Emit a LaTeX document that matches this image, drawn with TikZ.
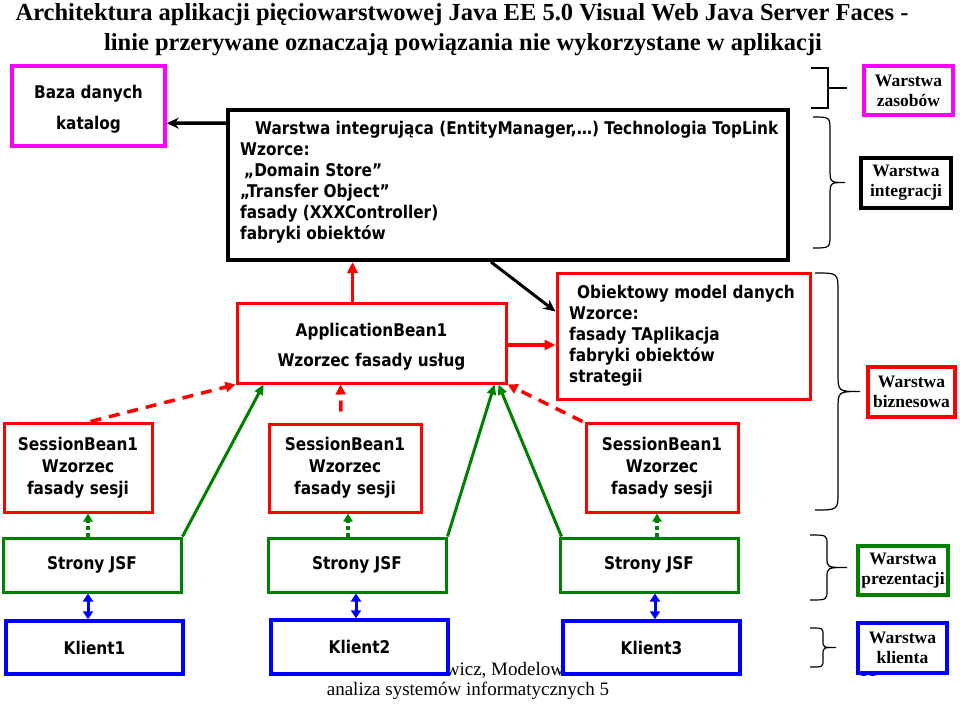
\documentclass[tikz,border=0pt]{standalone}
\usepackage{fontspec}
\setmainfont{Liberation Serif}
\setsansfont[FakeStretch=0.875]{DejaVu Sans}
\usetikzlibrary{arrows.meta,calc}
\definecolor{jgreen}{RGB}{0,128,0}
\definecolor{jred}{RGB}{255,0,0}
\definecolor{jblue}{RGB}{0,0,255}
\definecolor{jmag}{RGB}{255,0,255}
\tikzset{
  sf/.style={font=\sffamily\bfseries\fontsize{17.5}{21}\selectfont},
  sr/.style={font=\rmfamily\bfseries\fontsize{17.5}{20}\selectfont},
  box/.style={draw, fill=white, inner sep=0pt, align=center},
  rbox/.style={box, draw=jred, line width=3pt, sf},
  gbox/.style={box, draw=jgreen, line width=3pt, sf},
  bbox/.style={box, draw=jblue, line width=3.5pt, sf},
  mbox/.style={box, draw=jmag, line width=3.5pt},
  kbox/.style={box, draw=black, line width=4pt},
  lay/.style={box, sr},
  brc/.style={draw=black, line width=1.2pt},
  redarr/.style={draw=jred, line width=3.5pt, -{Triangle[length=11pt,width=10pt]}},
  reddash/.style={draw=jred, line width=3.5pt, dash pattern=on 11pt off 8pt, -{Triangle[length=10pt,width=10pt]}},
  grarr/.style={draw=jgreen, line width=3pt, -{Triangle[length=10pt,width=9pt]}},
  grdot/.style={draw=jgreen, line width=3.5pt, dash pattern=on 4pt off 3pt, -{Triangle[length=8pt,width=9pt]}},
  blarr/.style={draw=jblue, line width=3pt, {Triangle[length=8pt,width=10pt]}-{Triangle[length=8pt,width=10pt]}},
  blkarr/.style={draw=black, line width=3.5pt, -{Stealth[length=12pt,width=11pt]}},
  ttl/.style={font=\rmfamily\bfseries\fontsize{24.5}{30}\selectfont, anchor=base, inner sep=0pt},
  sbfont/.style={font=\sffamily\bfseries\fontsize{17.5}{22}\selectfont},
  txt/.style={sf, align=center, inner sep=0pt},
}
\newcommand{\laybrace}[6]{%
  \draw[brc] (#1,#4) .. controls (#2,#4) .. (#2,{#4+#6}) -- (#2,{(#4+#5)/2-#6})
    .. controls (#2,{(#4+#5)/2}) .. (#3,{(#4+#5)/2})
    .. controls (#2,{(#4+#5)/2}) .. (#2,{(#4+#5)/2+#6}) -- (#2,{#5-#6})
    .. controls (#2,#5) .. (#1,#5);}
\begin{document}
\begin{tikzpicture}[x=1pt,y=-1pt]
\useasboundingbox (0,0) rectangle (960,704);
% title
\node[ttl] (t1) at (462,20) {Architektura aplikacji pięciowarstwowej Java EE 5.0 Visual Web Java Server Faces -};
\node[ttl] (t2) at (463,50) {linie przerywane oznaczają powiązania nie wykorzystane w aplikacji};
% footer (behind boxes)
\node[font=\rmfamily\fontsize{19}{20}\selectfont, align=center, inner sep=0pt] (foot) at (468,681) {Zofia Kruczkiewicz, Modelowanie i\\analiza systemów informatycznych 5};
\node[font=\rmfamily\fontsize{19}{20}\selectfont, inner sep=0pt] (pnum) at (868,670) {11};
% resource / integration layer
\node[mbox, minimum width=153pt, minimum height=80pt] (baza) at (88.5,106) {};
\node[txt] (bazatxt) at (88.5,109) {Baza danych\\[10pt]katalog};
\node[kbox, minimum width=560pt, minimum height=150pt] (integ) at (508,185) {};
\node[sf, align=left, anchor=north west, inner sep=0pt] (integtxt) at (240,121) {\hspace*{15pt}Warstwa integrująca (EntityManager,…) Technologia TopLink\\Wzorce:\\\hspace*{4pt}„Domain Store”\\„Transfer Object”\\fasady (XXXController)\\fabryki obiektów};
% business layer
\node[rbox, minimum width=269pt, minimum height=80pt] (app) at (371.5,343) {};
\node[txt] (apptxt) at (371.5,347) {ApplicationBean1\\[9pt]Wzorzec fasady usług};
\node[rbox, minimum width=253pt, minimum height=126pt] (obj) at (683.5,336) {};
\node[sf, align=left, anchor=north west, inner sep=0pt] (objtxt) at (569,285) {\hspace*{8pt}Obiektowy model danych\\Wzorce:\\fasady TAplikacja\\fabryki obiektów\\strategii};
\node[rbox, minimum width=148pt, minimum height=89pt, sbfont] (sb1) at (78,467.5) {SessionBean1\\Wzorzec\\fasady sesji};
\node[rbox, minimum width=152pt, minimum height=88pt, sbfont] (sb2) at (345,468) {SessionBean1\\Wzorzec\\fasady sesji};
\node[rbox, minimum width=152pt, minimum height=89pt, sbfont] (sb3) at (662,467.5) {SessionBean1\\Wzorzec\\fasady sesji};
% presentation layer
\node[gbox, minimum width=178pt, minimum height=54pt] (jsf1) at (92,565) {Strony JSF};
\node[gbox, minimum width=178pt, minimum height=54pt] (jsf2) at (357,565) {Strony JSF};
\node[gbox, minimum width=178pt, minimum height=54pt] (jsf3) at (649,565) {Strony JSF};
% client layer
\node[bbox, minimum width=177pt, minimum height=53pt] (kl1) at (94.5,647.5) {Klient1};
\node[bbox, minimum width=177pt, minimum height=54pt] (kl2) at (359.5,647) {Klient2};
\node[bbox, minimum width=177pt, minimum height=53pt] (kl3) at (651.5,647.5) {Klient3};
% layer labels
\node[lay, draw=jmag, line width=3.5pt, minimum width=89pt, minimum height=49pt] (lzas) at (908.5,90.5) {Warstwa\\zasobów};
\node[lay, draw=black, line width=4.5pt, minimum width=90pt, minimum height=50pt] (lint) at (906,183) {Warstwa\\integracji};
\node[lay, draw=jred, line width=3.5pt, minimum width=87pt, minimum height=50pt] (lbiz) at (911.5,392) {Warstwa\\biznesowa};
\node[lay, draw=jgreen, line width=4pt, minimum width=90pt, minimum height=49pt] (lprez) at (903,570.5) {Warstwa\\prezentacji};
\node[lay, draw=jblue, line width=4.5pt, minimum width=89pt, minimum height=50pt] (lkl) at (902.5,648) {Warstwa\\klienta};
% braces
\draw[brc] (811,68) -- (828,68) -- (828,108) -- (811,108) (828,88) -- (847,88);
\laybrace{813}{830}{845}{117}{248}{14}
\laybrace{815}{838}{860}{273}{510}{18}
\laybrace{810}{827}{847}{535}{600}{10}
\laybrace{810}{823}{836}{628}{667}{7}
% connectors
\draw[blkarr] ($(integ.north west)+(0,15)$) -- ($(baza.north east)+(0,59)$);
\coordinate (a1) at ($(app.north west)+(117,0)$);
\draw[redarr] (a1) -- (a1 |- integ.south);
\coordinate (a2) at ($(app.east)+(0,2)$);
\draw[redarr] (a2) -- (a2 -| obj.west);
\draw[blkarr, line width=3pt] ($(integ.south west)+(265,0)$) -- ($(obj.north west)+(0,40)$);
\draw[reddash] ($(sb1.north west)+(88,0)$) -- (app.south west);
\draw[reddash] ($(sb2.north)+(-4,-11)$) -- ($(app.south)+(-31,0)$);
\draw[reddash] ($(sb3.north west)+(-2,0)$) -- (app.south east);
\draw[grarr] (jsf1.north east) -- ($(app.south west)+(28,0)$);
\draw[grarr] (jsf2.north east) -- ($(app.south east)+(-13,0)$);
\draw[grarr] ($(jsf3.north west)+(3,0)$) -- ($(app.south east)+(-9,0)$);
\coordinate (g1) at ($(jsf1.north)+(-4,0)$);
\coordinate (g2) at ($(jsf2.north)+(-9,0)$);
\coordinate (g3) at ($(jsf3.north)+(8,0)$);
\draw[grdot] (g1) -- (g1 |- sb1.south);
\draw[grdot] (g2) -- (g2 |- sb2.south);
\draw[grdot] (g3) -- (g3 |- sb3.south);
\coordinate (b1) at ($(jsf1.south)+(-4,0)$);
\coordinate (b2) at ($(jsf2.south)+(-1,0)$);
\coordinate (b3) at ($(jsf3.south)+(6,0)$);
\draw[blarr] (b1) -- (b1 |- kl1.north);
\draw[blarr] (b2) -- (b2 |- kl2.north);
\draw[blarr] (b3) -- (b3 |- kl3.north);
\end{tikzpicture}
\end{document}
